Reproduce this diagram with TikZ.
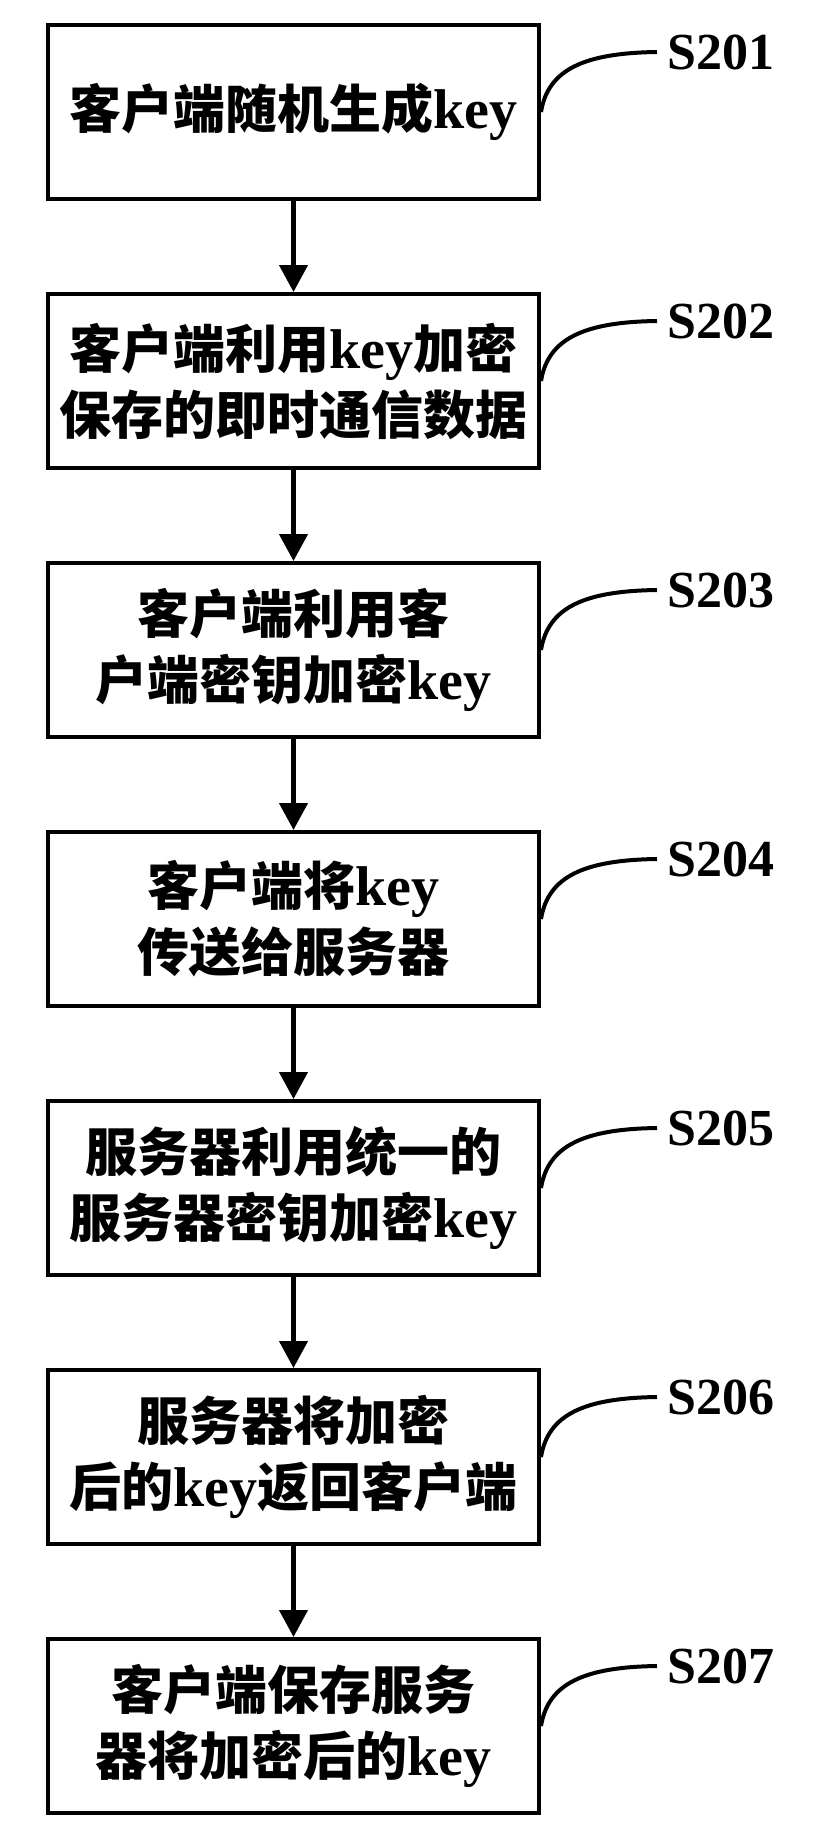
\documentclass[tikz,border=0pt]{standalone}
\usepackage{fontspec}
\setmainfont{Liberation Serif}
\newfontfamily\cjk{Noto Sans CJK SC}
\usetikzlibrary{arrows.meta}
\newcommand\ky{{\rmfamily\bfseries\fontsize{28}{33}\selectfont key}}
\tikzset{
    stepbox/.style={draw, line width=2pt, minimum width=245.5pt, minimum height=87pt,
        inner sep=0pt, align=center, font=\cjk\bfseries\fontsize{26}{33}\selectfont},
    steplabel/.style={anchor=west, inner sep=5pt, font=\bfseries\fontsize{26}{30}\selectfont},
    flow/.style={line width=2.2pt, -{Triangle[length=13.5pt, width=14pt]}},
    leader/.style={line width=2pt},
}
\begin{document}
\begin{tikzpicture}[x=0.5pt, y=-0.5pt]

        \useasboundingbox (0, 0) rectangle (819, 1842);

        \node [stepbox] (b1) at (293.5, 112)  {客户端随机生成\ky};
        \node [stepbox] (b2) at (293.5, 381)  {客户端利用\ky 加密\\保存的即时通信数据};
        \node [stepbox] (b3) at (293.5, 650)  {客户端利用客\\户端密钥加密\ky};
        \node [stepbox] (b4) at (293.5, 919)  {客户端将\ky\\传送给服务器};
        \node [stepbox] (b5) at (293.5, 1188) {服务器利用统一的\\服务器密钥加密\ky};
        \node [stepbox] (b6) at (293.5, 1457) {服务器将加密\\后的\ky 返回客户端};
        \node [stepbox] (b7) at (293.5, 1726) {客户端保存服务\\器将加密后的\ky};

        \node [steplabel] (s1) at ([shift={(116,-60)}]b1.east) {S201};
        \node [steplabel] (s2) at ([shift={(116,-60)}]b2.east) {S202};
        \node [steplabel] (s3) at ([shift={(116,-60)}]b3.east) {S203};
        \node [steplabel] (s4) at ([shift={(116,-60)}]b4.east) {S204};
        \node [steplabel] (s5) at ([shift={(116,-60)}]b5.east) {S205};
        \node [steplabel] (s6) at ([shift={(116,-60)}]b6.east) {S206};
        \node [steplabel] (s7) at ([shift={(116,-60)}]b7.east) {S207};

        \draw [flow] (b1) -- (b2);
        \draw [flow] (b2) -- (b3);
        \draw [flow] (b3) -- (b4);
        \draw [flow] (b4) -- (b5);
        \draw [flow] (b5) -- (b6);
        \draw [flow] (b6) -- (b7);

        \draw [leader]
            (b1.east) .. controls +(7,-43) and +(-72,1) .. (s1.west)
            (b2.east) .. controls +(7,-43) and +(-72,1) .. (s2.west)
            (b3.east) .. controls +(7,-43) and +(-72,1) .. (s3.west)
            (b4.east) .. controls +(7,-43) and +(-72,1) .. (s4.west)
            (b5.east) .. controls +(7,-43) and +(-72,1) .. (s5.west)
            (b6.east) .. controls +(7,-43) and +(-72,1) .. (s6.west)
            (b7.east) .. controls +(7,-43) and +(-72,1) .. (s7.west)
        ;

    \end{tikzpicture}
\end{document}
